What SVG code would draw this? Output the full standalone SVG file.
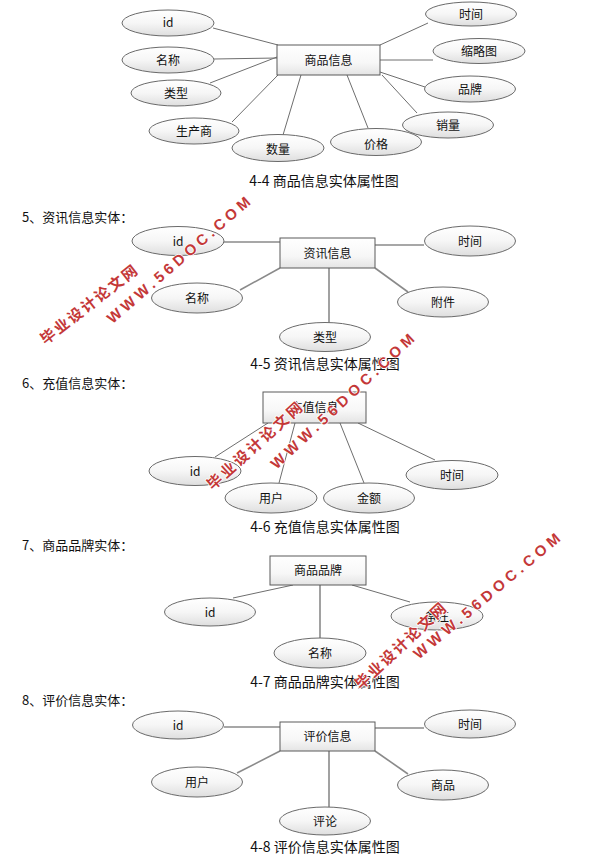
<svg xmlns="http://www.w3.org/2000/svg" width="598" height="858" viewBox="0 0 598 858">
<defs>
<linearGradient id="eg" x1="0" y1="0" x2="0" y2="1">
<stop offset="0" stop-color="#ffffff"/>
<stop offset="0.5" stop-color="#f6f6f6"/>
<stop offset="1" stop-color="#dedede"/>
</linearGradient>
<linearGradient id="rg" x1="0" y1="0" x2="0" y2="1">
<stop offset="0" stop-color="#ffffff"/>
<stop offset="0.6" stop-color="#f7f7f7"/>
<stop offset="1" stop-color="#e4e4e4"/>
</linearGradient>
</defs>
<style>
.bg{fill:#ffffff}
ellipse{fill:url(#eg);stroke:#6a6a6a;stroke-width:1}
rect.e{fill:url(#rg);stroke:#5a5a5a;stroke-width:1}
.c line{stroke:#6e6e6e;stroke-width:1}
.c2 line{stroke:#8a8a8a;stroke-width:1.6}
text{font-family:"Noto Sans CJK SC","Liberation Sans",sans-serif;fill:#111}
.l{font-size:12px;text-anchor:middle}
.h{font-size:13px}
.cap{font-size:14px;text-anchor:middle}
.wm{font-family:"Noto Sans CJK SC",sans-serif;font-weight:bold;font-size:15px;fill:#c43838;stroke:#ffffff;stroke-width:1.5;paint-order:stroke;text-anchor:middle}
.wu{font-family:"Liberation Sans",sans-serif;font-weight:bold;font-size:15px;fill:#c43838;stroke:#ffffff;stroke-width:1.5;paint-order:stroke;text-anchor:middle}
</style>
<rect class="bg" x="0" y="0" width="598" height="858"/>

<!-- connectors -->
<g id="connectors">
<g class="c">
<line x1="213" y1="28" x2="278" y2="45"/>
<line x1="214" y1="59" x2="277" y2="58"/>
<line x1="210" y1="83" x2="277" y2="57"/>
<line x1="232" y1="122" x2="278" y2="75"/>
<line x1="283" y1="135" x2="301" y2="75"/>
<line x1="368" y1="128" x2="347" y2="75"/>
<line x1="380" y1="45" x2="428" y2="23"/>
<line x1="380" y1="60" x2="433" y2="60"/>
<line x1="380" y1="72" x2="425" y2="87"/>
<line x1="382" y1="75" x2="417" y2="113"/>
</g>
<g class="c2">
<line x1="224" y1="242" x2="280" y2="242"/>
<line x1="375" y1="245" x2="424" y2="245"/>
<line x1="240" y1="290" x2="280" y2="268"/>
<line x1="329" y1="268" x2="329" y2="323"/>
<line x1="375" y1="268" x2="408" y2="292"/>
</g>
<g class="c">
<line x1="215" y1="457" x2="268" y2="423"/>
<line x1="279" y1="483" x2="295" y2="423"/>
<line x1="364" y1="483" x2="340" y2="423"/>
<line x1="435" y1="460" x2="358" y2="423"/>
<line x1="233" y1="598" x2="293" y2="585"/>
<line x1="352" y1="585" x2="410" y2="602"/>
</g>
<g class="c2">
<line x1="320" y1="585" x2="320" y2="638"/>
<line x1="224" y1="727" x2="280" y2="727"/>
<line x1="375" y1="728" x2="424" y2="728"/>
<line x1="237" y1="773" x2="280" y2="751"/>
<line x1="329" y1="751" x2="329" y2="807"/>
<line x1="375" y1="751" x2="408" y2="774"/>
</g>
</g>

<!-- Diagram 4-4 -->
<g id="d1-entity"><rect class="e" x="277" y="45" width="103" height="30"/><text class="l" x="328.5" y="64.5">商品信息</text></g>
<g id="d1-id"><ellipse cx="168" cy="23" rx="46" ry="13"/><text class="l" x="168" y="27">id</text></g>
<g id="d1-name"><ellipse cx="168" cy="60" rx="46" ry="13"/><text class="l" x="168" y="64.5">名称</text></g>
<g id="d1-type"><ellipse cx="176" cy="93" rx="45" ry="13"/><text class="l" x="176" y="97.5">类型</text></g>
<g id="d1-maker"><ellipse cx="194" cy="131" rx="45" ry="13"/><text class="l" x="194" y="135.5">生产商</text></g>
<g id="d1-qty"><ellipse cx="278" cy="148" rx="46" ry="13.5"/><text class="l" x="278" y="154">数量</text></g>
<g id="d1-price"><ellipse cx="376" cy="142" rx="45.5" ry="13.5"/><text class="l" x="376" y="149">价格</text></g>
<g id="d1-time"><ellipse cx="471" cy="14" rx="45.5" ry="12"/><text class="l" x="471" y="19">时间</text></g>
<g id="d1-thumb"><ellipse cx="479" cy="51" rx="46" ry="12.5"/><text class="l" x="479" y="56">缩略图</text></g>
<g id="d1-brand"><ellipse cx="470" cy="89" rx="45.5" ry="13"/><text class="l" x="470" y="94">品牌</text></g>
<g id="d1-sales"><ellipse cx="448" cy="125" rx="45.5" ry="13"/><text class="l" x="448" y="130">销量</text></g>
<text class="cap" x="324" y="186">4-4 商品信息实体属性图</text>

<!-- Diagram 4-5 -->
<text class="h" x="22" y="221.5">5、资讯信息实体：</text>
<g id="d2-entity"><rect class="e" x="280" y="238" width="95" height="30"/><text class="l" x="327.5" y="257.5">资讯信息</text></g>
<g id="d2-id"><ellipse cx="178" cy="241" rx="46" ry="14.5"/><text class="l" x="178" y="245.5">id</text></g>
<g id="d2-time"><ellipse cx="470" cy="241" rx="45.5" ry="15"/><text class="l" x="470" y="245.5">时间</text></g>
<g id="d2-name"><ellipse cx="197" cy="298" rx="45.5" ry="15"/><text class="l" x="197" y="302.5">名称</text></g>
<g id="d2-attach"><ellipse cx="443" cy="302" rx="45.5" ry="15"/><text class="l" x="443" y="306.5">附件</text></g>
<g id="d2-type"><ellipse cx="325" cy="337" rx="45.5" ry="14.5"/><text class="l" x="325" y="341.5">类型</text></g>
<text class="cap" x="325" y="369">4-5 资讯信息实体属性图</text>

<!-- Diagram 4-6 -->
<text class="h" x="22" y="388">6、充值信息实体：</text>
<g id="d3-entity"><rect class="e" x="263" y="392" width="103" height="31"/><text class="l" x="314.5" y="412">充值信息</text></g>
<g id="d3-id"><ellipse cx="195" cy="471" rx="46" ry="14.5"/><text class="l" x="195" y="475.5">id</text></g>
<g id="d3-user"><ellipse cx="271" cy="498" rx="46" ry="15"/><text class="l" x="271" y="502.5">用户</text></g>
<g id="d3-amount"><ellipse cx="369" cy="498" rx="45.5" ry="15"/><text class="l" x="369" y="502.5">金额</text></g>
<g id="d3-time"><ellipse cx="452" cy="475" rx="46" ry="14.5"/><text class="l" x="452" y="479.5">时间</text></g>
<text class="cap" x="325" y="532">4-6 充值信息实体属性图</text>

<!-- Diagram 4-7 -->
<text class="h" x="22" y="550">7、商品品牌实体：</text>
<g id="d4-entity"><rect class="e" x="270" y="556" width="96" height="29"/><text class="l" x="318" y="575">商品品牌</text></g>
<g id="d4-id"><ellipse cx="210" cy="612" rx="45.5" ry="14"/><text class="l" x="210" y="616.5">id</text></g>
<g id="d4-name"><ellipse cx="320" cy="653" rx="46" ry="15"/><text class="l" x="320" y="657.5">名称</text></g>
<g id="d4-note"><ellipse cx="437" cy="616" rx="46" ry="14"/><text class="l" x="437" y="620.5">备注</text></g>
<text class="cap" x="325" y="687">4-7 商品品牌实体属性图</text>

<!-- Diagram 4-8 -->
<text class="h" x="22" y="705">8、评价信息实体：</text>
<g id="d5-entity"><rect class="e" x="280" y="722" width="95" height="29"/><text class="l" x="327.5" y="741">评价信息</text></g>
<g id="d5-id"><ellipse cx="178" cy="725" rx="45.5" ry="14"/><text class="l" x="178" y="729.5">id</text></g>
<g id="d5-time"><ellipse cx="470" cy="724" rx="45.5" ry="14"/><text class="l" x="470" y="728.5">时间</text></g>
<g id="d5-user"><ellipse cx="197" cy="782" rx="45.5" ry="15"/><text class="l" x="197" y="786.5">用户</text></g>
<g id="d5-goods"><ellipse cx="443" cy="785" rx="45.5" ry="15"/><text class="l" x="443" y="789.5">商品</text></g>
<g id="d5-comment"><ellipse cx="325" cy="821" rx="45.5" ry="14"/><text class="l" x="325" y="825.5">评论</text></g>
<text class="cap" x="325" y="852">4-8 评价信息实体属性图</text>

<!-- watermarks -->
<g id="watermarks">
<text class="wm" transform="translate(92,309) rotate(-38)" textLength="118" lengthAdjust="spacing">毕业设计论文网</text>
<text class="wu" transform="translate(182,264) rotate(-41)" textLength="184" lengthAdjust="spacing">WWW.56DOC.COM</text>
<text class="wm" transform="translate(258,450) rotate(-42)" textLength="122" lengthAdjust="spacing">毕业设计论文网</text>
<text class="wu" transform="translate(346,405) rotate(-43)" textLength="190" lengthAdjust="spacing">WWW.56DOC.COM</text>
<text class="wm" transform="translate(404,650) rotate(-43)" textLength="118" lengthAdjust="spacing">毕业设计论文网</text>
<text class="wu" transform="translate(490,600) rotate(-40)" textLength="186" lengthAdjust="spacing">WWW.56DOC.COM</text>
</g>
</svg>
